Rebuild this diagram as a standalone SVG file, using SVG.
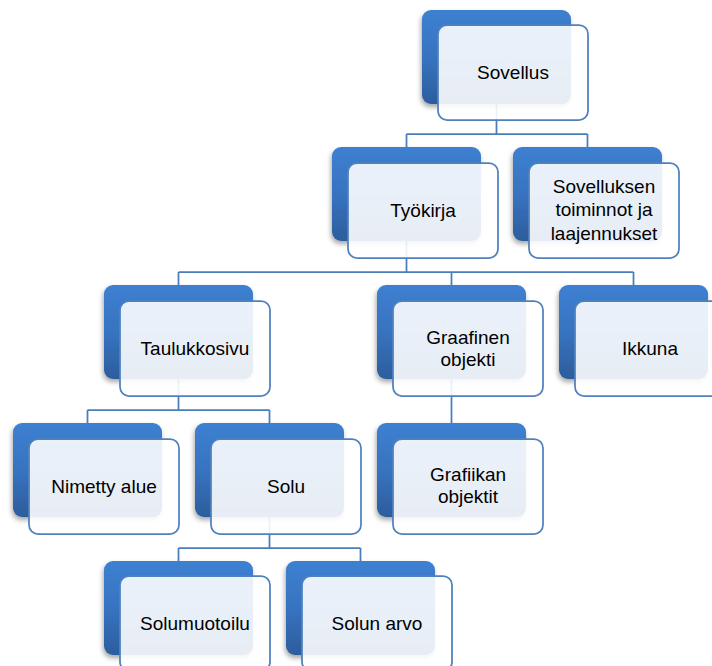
<svg xmlns="http://www.w3.org/2000/svg" width="712" height="666" viewBox="0 0 712 666">
<defs>
<linearGradient id="bg" x1="0" y1="0" x2="0" y2="1">
<stop offset="0" stop-color="#3d80d1"/>
<stop offset="0.5" stop-color="#3873c0"/>
<stop offset="1" stop-color="#2c5d9c"/>
</linearGradient>
<filter id="sh" x="-10%" y="-10%" width="125%" height="130%">
<feDropShadow dx="-1" dy="3" stdDeviation="2.5" flood-color="#000" flood-opacity="0.35"/>
</filter>
</defs>
<style>
.back{fill:url(#bg);filter:url(#sh)}
.front{fill:#ffffff;fill-opacity:0.89;stroke:#4f81bd;stroke-width:1.75}
.con{fill:none;stroke:#4a7ebb;stroke-width:1.75}
text{font-family:"Liberation Sans",Arial,sans-serif;font-size:19px;fill:#000;text-anchor:middle}
</style>
<g id="connectors" class="con">
<path d="M496.5,104V134M406.5,134H587.5M406.5,134V147M587.5,134V147"/>
<path d="M406.5,241V272M178.5,272H633.5M178.5,272V285M451.5,272V285M633.5,272V285"/>
<path d="M178.5,379V410M87.5,410H269.5M87.5,410V423M269.5,410V423"/>
<path d="M451.5,379V423"/>
<path d="M269.5,517V548M178.5,548H360.5M178.5,548V561M360.5,548V561"/>
</g>
<g id="sovellus"><rect class="back" x="422" y="10" width="149" height="94" rx="9"/><rect class="front" x="438" y="25" width="150" height="95" rx="9"/><text x="513" y="79">Sovellus</text></g>
<g id="tyokirja"><rect class="back" x="332" y="147" width="149" height="94" rx="9"/><rect class="front" x="348" y="163" width="150" height="95" rx="9"/><text x="423" y="217">Työkirja</text></g>
<g id="toiminnot"><rect class="back" x="513" y="147" width="149" height="94" rx="9"/><rect class="front" x="529" y="163" width="150" height="95" rx="9"/><text x="604" y="193">Sovelluksen</text><text x="604" y="216">toiminnot ja</text><text x="604" y="240">laajennukset</text></g>
<g id="taulukkosivu"><rect class="back" x="104" y="285" width="149" height="94" rx="9"/><rect class="front" x="120" y="301" width="150" height="95" rx="9"/><text x="195" y="355">Taulukkosivu</text></g>
<g id="graafinen"><rect class="back" x="377" y="285" width="149" height="94" rx="9"/><rect class="front" x="393" y="301" width="150" height="95" rx="9"/><text x="468" y="344">Graafinen</text><text x="468" y="366">objekti</text></g>
<g id="ikkuna"><rect class="back" x="559" y="285" width="149" height="94" rx="9"/><rect class="front" x="575" y="301" width="150" height="95" rx="9"/><text x="650" y="355">Ikkuna</text></g>
<g id="nimetty"><rect class="back" x="13" y="423" width="149" height="94" rx="9"/><rect class="front" x="29" y="439" width="150" height="95" rx="9"/><text x="104" y="493">Nimetty alue</text></g>
<g id="solu"><rect class="back" x="195" y="423" width="149" height="94" rx="9"/><rect class="front" x="211" y="439" width="150" height="95" rx="9"/><text x="286" y="493">Solu</text></g>
<g id="grafiikan"><rect class="back" x="377" y="423" width="149" height="94" rx="9"/><rect class="front" x="393" y="439" width="150" height="95" rx="9"/><text x="468" y="481">Grafiikan</text><text x="468" y="503">objektit</text></g>
<g id="solumuotoilu"><rect class="back" x="104" y="561" width="149" height="94" rx="9"/><rect class="front" x="120" y="576" width="150" height="95" rx="9"/><text x="195" y="630">Solumuotoilu</text></g>
<g id="solunarvo"><rect class="back" x="286" y="561" width="149" height="94" rx="9"/><rect class="front" x="302" y="576" width="150" height="95" rx="9"/><text x="377" y="630">Solun arvo</text></g>
</svg>
